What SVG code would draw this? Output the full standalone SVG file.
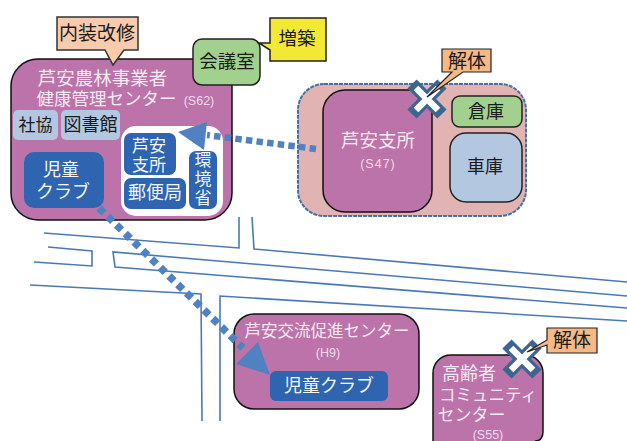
<svg xmlns="http://www.w3.org/2000/svg" width="627" height="441" viewBox="0 0 627 441">
<style>
text{font-family:"Noto Sans CJK JP","Noto Sans",sans-serif;text-anchor:middle}
.k{fill:#1a1a1a}
.w{fill:#f7e9f2}
.s{fill:#f0dbe9;font-size:12.500px;font-family:"Liberation Sans",sans-serif}
.b{fill:#f4f7fc}
.bld{fill:#bb73aa;stroke:#111;stroke-width:1.5}
.blue{fill:#2e64b0}
.lt{fill:#b4c7e0}
.gr{fill:#a2d08e;stroke:#222;stroke-width:1.5}
.or{fill:#f8cbad;stroke:#333;stroke-width:1.5}
.or2{fill:#f4b987;stroke:#222;stroke-width:1.2}
.road{fill:none;stroke:#4a7ab5;stroke-width:1.6}
.dot{fill:none;stroke:#5082c2;stroke-width:6.500;stroke-dasharray:6.500 4.200}
.dot2{fill:none;stroke:#5082c2;stroke-width:7.500;stroke-dasharray:7 5.200}
.arr{fill:#5082c2}
.xo{stroke:#3c6590;stroke-width:13;fill:none}
.xi{stroke:#fff;stroke-width:6.500;fill:none}
</style>
<g id="roads" class="road">
<path d="M44 233L239 248V217"/>
<path d="M252 217L254 249L627 282"/>
<path d="M48 247L92 251V266L34 262"/>
<path d="M627 296L113 252L115 267L627 308"/>
<path d="M30 285L201 294L202 421"/>
<path d="M220 421V296L627 321"/>
</g>
<g id="center-main">
<rect class="bld" x="11" y="59" width="221" height="161" rx="27"/>
<text class="w" font-size="18.500" x="102.500" y="85">芦安農林事業者</text>
<text class="w" font-size="17.500" x="106.500" y="105">健康管理センター</text>
<text class="s" x="199" y="105">(S62)</text>
<g id="shakyo"><rect class="lt" x="13" y="110" width="45" height="30" rx="5"/><text class="k" font-size="17" x="35.500" y="131">社協</text></g>
<g id="library"><rect class="lt" x="61" y="110" width="59" height="30" rx="5"/><text class="k" font-size="18" x="90.500" y="131">図書館</text></g>
<g id="kids-a"><rect class="blue" x="24" y="152" width="80" height="56" rx="10"/><text class="b" font-size="18"><tspan x="61" y="176">児童</tspan><tspan x="63" y="198">クラブ</tspan></text></g>
<rect x="121" y="126" width="102" height="90" rx="15" fill="#fff"/>
<g id="branch"><rect class="blue" x="124" y="133" width="52" height="42" rx="7"/><text class="b" font-size="17"><tspan x="149" y="152">芦安</tspan><tspan x="149" y="171">支所</tspan></text></g>
<g id="post"><rect class="blue" x="124" y="178" width="62" height="31" rx="7"/><text class="b" font-size="18" x="155" y="199">郵便局</text></g>
<g id="env"><rect class="blue" x="189" y="151" width="28" height="58" rx="7"/><text class="b" font-size="17"><tspan x="203" y="166">環</tspan><tspan x="203" y="185">境</tspan><tspan x="203" y="204">省</tspan></text></g>
</g>
<g id="renovation"><path class="or" d="M57 17H138V50H124L113 65L105 50H57Z"/><text class="k" font-size="19" x="97" y="40">内装改修</text></g>
<g id="meeting"><rect class="gr" x="193" y="39" width="67" height="46" rx="9"/><text class="k" font-size="18.500" x="227" y="68">会議室</text></g>
<g id="extension"><path d="M270 18H326V61H270V50L259 43L270 43Z" fill="#f3e833" stroke="#222" stroke-width="1.500"/><text class="k" font-size="18.500" x="297" y="45">増築</text></g>
<g id="ashiyasu-branch">
<rect x="298" y="84" width="228" height="132" rx="26" fill="#e2b3b3" stroke="#46709f" stroke-width="2" stroke-dasharray="4 1"/>
<rect class="bld" x="323" y="90" width="109" height="122" rx="22"/>
<text class="w" font-size="18.500" x="378" y="147">芦安支所</text>
<text class="s" x="378" y="168" letter-spacing="1">(S47)</text>
<g id="warehouse"><rect class="gr" x="452" y="96" width="70" height="31" rx="8"/><text class="k" font-size="18" x="486" y="118">倉庫</text></g>
<g id="garage"><rect x="450" y="133" width="72" height="69" rx="16" fill="#b4c7e0" stroke="#222" stroke-width="1.500"/><text class="k" font-size="18" x="485" y="173">車庫</text></g>
<path class="xo" d="M412 84L442 114M442 84L412 114"/>
<path class="xi" d="M416 88L438 110M438 88L416 110"/>
<path class="or2" d="M442 49H491V72H463L427 97L452 72H442Z"/>
<text class="k" font-size="19" x="467" y="67.500">解体</text>
</g>
<g id="exchange-center">
<rect class="bld" x="234" y="314" width="185" height="95" rx="20"/>
<text class="w" font-size="16.500" x="327" y="337">芦安交流促進センター</text>
<text class="s" x="328" y="357">(H9)</text>
<g id="kids-b"><rect class="blue" x="270" y="371" width="118" height="30" rx="6"/><text class="b" font-size="18" x="329" y="392">児童クラブ</text></g>
</g>
<g id="community">
<path class="bld" d="M433 441V373A18 18 0 0 1 451 355H525A18 18 0 0 1 543 373V431Q543 441 535 441"/>
<text class="w" font-size="18"><tspan x="469" y="380">高齢者</tspan></text>
<text class="w" font-size="16.500" x="488" y="401">コミュニティ</text>
<text class="w" font-size="17" x="471.500" y="421">センター</text>
<text class="s" x="488" y="439">(S55)</text>
<path class="xo" d="M507 344L537 374M537 344L507 374"/>
<path class="xi" d="M511 348L533 370M533 348L511 370"/>
<path class="or2" d="M547 328H597V353H547V345L527 352L547 340Z"/>
<text class="k" font-size="19" x="572" y="347">解体</text>
</g>
<g id="connectors">
<path class="dot" d="M316 149L207 135"/>
<path class="arr" d="M178 132L207 122L204 150Z"/>
<path class="dot2" d="M99 208L243 348"/>
<path class="arr" d="M258 342L236 364L270 375Z"/>
</g>
</svg>
